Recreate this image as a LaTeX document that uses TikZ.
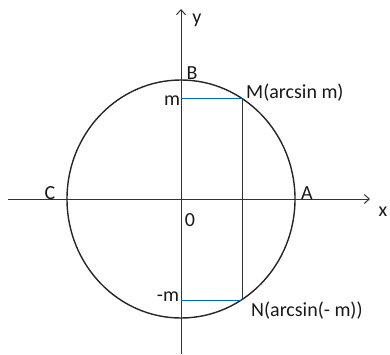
\documentclass[tikz,border=0pt]{standalone}
\usepackage{fontspec}
\setmainfont{Carlito}
\usepackage{tikz}
\usetikzlibrary{arrows.meta}

\begin{document}
\begin{tikzpicture}[x=1pt, y=1pt, >={Straight Barb[length=5pt, width=9pt]},
	asse/.style={->, line width=1pt, color=black!80},
	cerchio/.style={line width=1.4pt, color=black!85},
	proiezione/.style={line width=1pt, color=blue!45!cyan!75!black},
	corda/.style={line width=1pt, color=black!80},
	etichetta/.style={font=\fontsize{20}{22}\selectfont, text=black!90, inner sep=0pt}]

	\useasboundingbox (-181,-155) rectangle (209,199);

	% punti
	\coordinate (O) at (0,0);
	\coordinate (xs) at (-173,0);
	\coordinate (xe) at (189,0);
	\coordinate (ys) at (0,-155);
	\coordinate (ye) at (0,190);
	\coordinate (M) at (61,101);
	\coordinate (N) at (61,-101);
	\coordinate (Mm) at (0,101);
	\coordinate (Nm) at (0,-101);

	% assi
	\draw[asse] (xs) -- (xe);
	\draw[asse] (ys) -- (ye);

	% circonferenza
	\draw[cerchio] (O) ellipse [x radius=114, y radius=119];

	% proiezioni
	\draw[proiezione] (Mm) -- (M);
	\draw[proiezione] (Nm) -- (N);
	\draw[corda] (M) -- (N);

	% etichette
	\node[etichetta] (ly) at (16,179) {y};
	\node[etichetta] (lx) at (202,-13) {x};
	\node[etichetta] (lB) at (11,126) {B};
	\node[etichetta] (lC) at (-131,6) {C};
	\node[etichetta] (lA) at (126,6) {A};
	\node[etichetta] (lO) at (9,-21) {0};
	\node[etichetta] (lm) at (-9,98) {m};
	\node[etichetta] (lmm) at (-13,-98) {-m};
	\node[etichetta, anchor=west] (lM) at (65,106) {M(arcsin m)};
	\node[etichetta, anchor=west] (lN) at (70,-112) {N(arcsin(- m))};
\end{tikzpicture}
\end{document}
